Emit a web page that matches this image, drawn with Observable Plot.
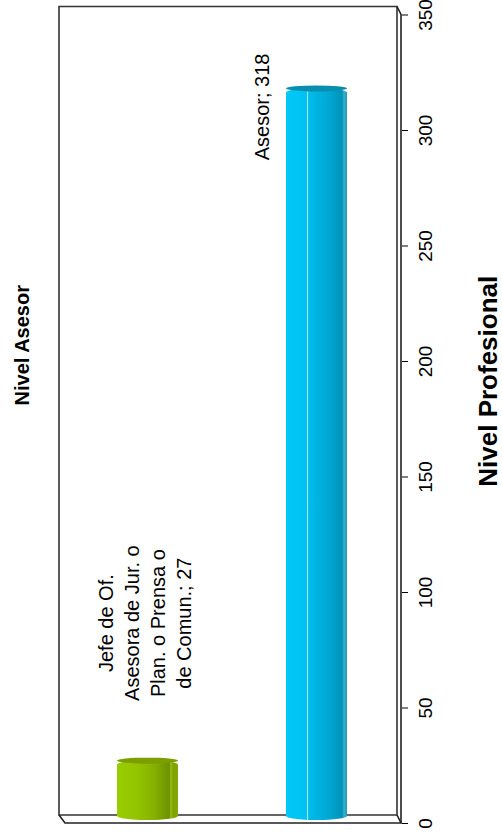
<!DOCTYPE html>
<html>
<head>
<meta charset="utf-8">
<script src="https://cdn.jsdelivr.net/npm/d3@7"></script>
<script src="https://cdn.jsdelivr.net/npm/@observablehq/plot@0.6"></script>
<style>
  html, body { margin: 0; padding: 0; background: #fff; }
  #chart svg { display: block; font-family: "Liberation Sans", Arial, sans-serif; }
</style>
</head>
<body>
<svg width="0" height="0" style="position:absolute">
  <defs>
    <linearGradient id="gGreen" x1="0" x2="1" y1="0" y2="0">
      <stop offset="0" stop-color="#99CC00"/>
      <stop offset="0.3" stop-color="#94C600"/>
      <stop offset="0.6" stop-color="#86B200"/>
      <stop offset="0.86" stop-color="#6C9200"/>
      <stop offset="0.88" stop-color="#9ABF10"/>
      <stop offset="0.92" stop-color="#7EA200"/>
      <stop offset="1" stop-color="#84A800"/>
    </linearGradient>
    <linearGradient id="gBlue" x1="0" x2="1" y1="0" y2="0">
      <stop offset="0" stop-color="#00C8F8"/>
      <stop offset="0.34" stop-color="#00C2F2"/>
      <stop offset="0.355" stop-color="#C8F2FF"/>
      <stop offset="0.37" stop-color="#00BCEA"/>
      <stop offset="0.7" stop-color="#00A8D4"/>
      <stop offset="0.92" stop-color="#0092B6"/>
      <stop offset="0.95" stop-color="#3AAFCC"/>
      <stop offset="1" stop-color="#1A9CBC"/>
    </linearGradient>
  </defs>
</svg>
<div id="chart"></div>
<script>
// ---- data ----
const categories = ["Jefe de Of. Asesora de Jur. o Plan. o Prensa o de Comun.", "Asesor"];
const values = [27, 318];
const labels = ["Jefe de Of.\nAsesora de Jur. o\nPlan. o Prensa o\nde Comun.; 27", "Asesor; 318"];
const barFills = ["url(#gGreen)", "url(#gBlue)"];
const capFills = ["#7C9E00", "#0A8EAE"];
const yTicks = [0, 50, 100, 150, 200, 250, 300, 350];
const title = "Nivel Asesor";
const axisTitle = "Nivel Profesional";

const data = categories.map((c, i) => ({cat: c, value: values[i], label: labels[i], fill: barFills[i], cap: capFills[i]}));

// 3D wall / floor outline drawn from the plot's frame dimensions
function walls(index, scales, vals, dims) {
  const {width, height, marginLeft, marginRight, marginTop, marginBottom} = dims;
  const x0 = marginLeft, x1 = width - marginRight, y0 = marginTop, y1 = height - marginBottom;
  const ox = -4, oy = -8;
  const g = d3.create("svg:g").attr("fill", "none").attr("stroke", "#222").attr("stroke-width", 1.6);
  // back wall
  g.append("path").attr("stroke", "#333").attr("d",
    `M${x0 + ox},${y1 + oy}V${y0 + oy}H${x1 + ox}V${y1 + oy}Z`);
  // floor
  g.append("path").attr("d",
    `M${x0 + ox},${y1 + oy}L${x0 + ox + 6},${y1}H${x1}L${x1 + ox},${y1 + oy}`);
  // top-right depth edge + value axis line
  g.append("path").attr("d",
    `M${x1 + ox},${y0 + oy}L${x1},${y0}V${y1}`);
  return g.node();
}

const chart = Plot.plot({
  width: 502,
  height: 839,
  marginLeft: 63,
  marginRight: 101,
  marginTop: 14.5,
  marginBottom: 16,
  style: {fontFamily: "Liberation Sans, Arial, sans-serif", background: "#fff"},
  x: {domain: categories, axis: null, paddingInner: 0.64, paddingOuter: 0.32},
  y: {domain: [0, 350], axis: "right", ticks: yTicks, tickSize: 6, tickFormat: () => "", label: null},
  color: {type: "identity"},
  marks: [
    walls,
    Plot.barY(data, {x: "cat", y: "value", fill: "fill", insetBottom: 3, rx: 30, ry: 4}),
    Plot.barY(data, {x: "cat", y1: "value", y2: "value", fill: "cap", insetTop: -3, insetBottom: -3, rx: 31, ry: 3}),
    Plot.text([data[0]], {x: "cat", y: "value", text: "label", rotate: -90, dx: -4, dy: -138, fontSize: 20, lineHeight: 1.3, fill: "#000"}),
    Plot.text([data[1]], {x: "cat", y: "value", text: "label", rotate: -90, dx: -54, dy: 18, fontSize: 20, fill: "#000"}),
    Plot.text(yTicks, {y: d => d, text: d => String(d), frameAnchor: "right", textAnchor: "middle", dx: 24, rotate: -90, fontSize: 19, fill: "#000"}),
    Plot.text([title], {frameAnchor: "left", textAnchor: "middle", text: d => d, dx: -41, dy: -74, rotate: -90, fontSize: 20, fontWeight: "bold", fill: "#000"}),
    Plot.text([axisTitle], {frameAnchor: "right", textAnchor: "middle", text: d => d, dx: 87, dy: -38, rotate: -90, fontSize: 26, fontWeight: "bold", fill: "#000"})
  ]
});
document.getElementById("chart").append(chart);
</script>
</body>
</html>
